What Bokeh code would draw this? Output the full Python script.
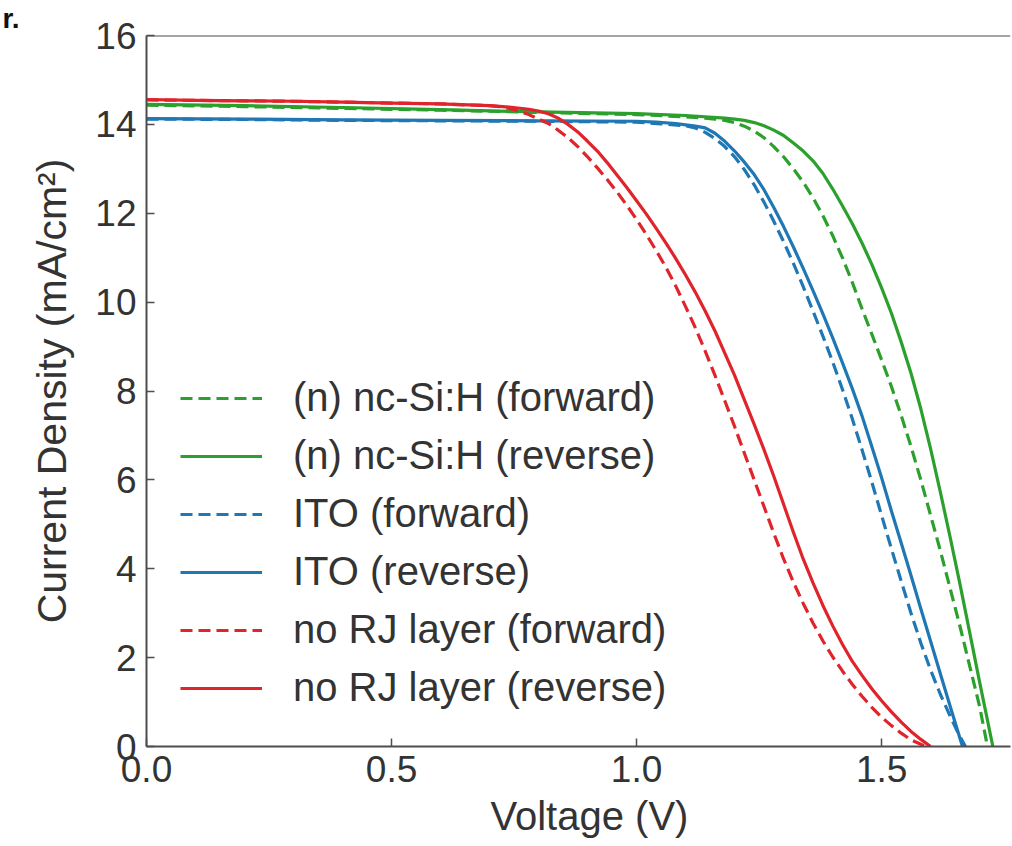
from bokeh.plotting import figure
from bokeh.models import (Range1d, FixedTicker, NumeralTickFormatter, Legend,
                          LegendItem, Span, Title)
from bokeh.embed import file_html
from bokeh.resources import INLINE

# ---- data ----
nc_fwd_v = [0.0, 0.2, 0.4, 0.6, 0.8, 1.0, 1.1, 1.14, 1.16, 1.18, 1.20, 1.22, 1.24,
            1.26, 1.28, 1.30, 1.32, 1.34, 1.36, 1.38, 1.40, 1.42, 1.44, 1.46, 1.48,
            1.50, 1.52, 1.54, 1.56, 1.58, 1.60, 1.62, 1.64, 1.66, 1.68, 1.70, 1.716]
nc_fwd_j = [14.43, 14.40, 14.36, 14.32, 14.27, 14.22, 14.17, 14.14, 14.12, 14.09,
            14.04, 13.96, 13.85, 13.70, 13.50, 13.27, 13.00, 12.70, 12.35, 11.95,
            11.50, 11.00, 10.45, 9.85, 9.28, 8.70, 8.10, 7.45, 6.75, 6.00, 5.20,
            4.40, 3.55, 2.70, 1.80, 0.90, 0.0]

nc_rev_v = [0.0, 0.2, 0.4, 0.6, 0.8, 1.0, 1.1, 1.18, 1.20, 1.22, 1.24, 1.26, 1.28,
            1.30, 1.32, 1.34, 1.36, 1.38, 1.40, 1.42, 1.44, 1.46, 1.48, 1.50, 1.52,
            1.54, 1.56, 1.58, 1.60, 1.62, 1.64, 1.66, 1.68, 1.70, 1.727]
nc_rev_j = [14.45, 14.42, 14.38, 14.33, 14.28, 14.24, 14.20, 14.14, 14.12, 14.09,
            14.04, 13.97, 13.87, 13.75, 13.58, 13.40, 13.18, 12.90, 12.55, 12.17,
            11.77, 11.33, 10.85, 10.32, 9.75, 9.10, 8.40, 7.60, 6.70, 5.72, 4.70,
            3.65, 2.55, 1.45, 0.0]

ito_fwd_v = [0.0, 0.2, 0.4, 0.6, 0.8, 1.0, 1.05, 1.10, 1.12, 1.14, 1.16, 1.18, 1.20,
             1.22, 1.24, 1.26, 1.28, 1.30, 1.32, 1.34, 1.36, 1.38, 1.40, 1.42, 1.44,
             1.46, 1.48, 1.50, 1.52, 1.54, 1.56, 1.58, 1.60, 1.62, 1.64, 1.655, 1.671]
ito_fwd_j = [14.12, 14.11, 14.09, 14.08, 14.07, 14.05, 14.01, 13.97, 13.92, 13.82,
             13.68, 13.50, 13.27, 12.98, 12.64, 12.25, 11.82, 11.36, 10.87, 10.35,
             9.80, 9.24, 8.66, 8.04, 7.38, 6.68, 5.95, 5.20, 4.45, 3.72, 3.00, 2.33,
             1.72, 1.17, 0.68, 0.33, 0.0]

ito_rev_v = [0.0, 0.2, 0.4, 0.6, 0.8, 1.0, 1.04, 1.08, 1.10, 1.12, 1.14, 1.16, 1.18,
             1.20, 1.22, 1.24, 1.26, 1.28, 1.30, 1.32, 1.34, 1.36, 1.38, 1.40, 1.42,
             1.44, 1.46, 1.48, 1.50, 1.52, 1.54, 1.56, 1.58, 1.60, 1.62, 1.64, 1.665]
ito_rev_j = [14.13, 14.12, 14.10, 14.09, 14.08, 14.07, 14.05, 14.02, 13.99, 13.96,
             13.92, 13.80, 13.62, 13.40, 13.15, 12.87, 12.53, 12.13, 11.70, 11.24,
             10.76, 10.26, 9.74, 9.20, 8.64, 8.06, 7.44, 6.75, 6.05, 5.30, 4.58,
             3.85, 3.10, 2.37, 1.63, 0.90, 0.0]

norj_fwd_v = [0.0, 0.1, 0.2, 0.3, 0.4, 0.5, 0.6, 0.7, 0.72, 0.74, 0.76, 0.78, 0.80,
              0.82, 0.84, 0.86, 0.88, 0.90, 0.92, 0.94, 0.96, 0.98, 1.00, 1.02, 1.04,
              1.06, 1.08, 1.10, 1.12, 1.14, 1.16, 1.18, 1.20, 1.22, 1.24, 1.26, 1.28,
              1.30, 1.32, 1.34, 1.36, 1.38, 1.40, 1.42, 1.44, 1.46, 1.48, 1.50, 1.52,
              1.54, 1.56, 1.59]
norj_fwd_j = [14.55, 14.54, 14.53, 14.52, 14.50, 14.48, 14.46, 14.42, 14.40, 14.36,
              14.30, 14.22, 14.12, 14.02, 13.87, 13.70, 13.50, 13.27, 13.02, 12.76,
              12.48, 12.18, 11.86, 11.52, 11.16, 10.78, 10.36, 9.90, 9.42, 8.90,
              8.35, 7.78, 7.20, 6.60, 6.00, 5.40, 4.80, 4.22, 3.70, 3.22, 2.78, 2.38,
              2.02, 1.70, 1.40, 1.13, 0.88, 0.66, 0.47, 0.30, 0.15, 0.0]

norj_rev_v = [0.0, 0.1, 0.2, 0.3, 0.4, 0.5, 0.6, 0.7, 0.74, 0.78, 0.80, 0.82, 0.84,
              0.86, 0.88, 0.90, 0.92, 0.94, 0.96, 0.98, 1.00, 1.02, 1.04, 1.06, 1.08,
              1.10, 1.12, 1.14, 1.16, 1.18, 1.20, 1.22, 1.24, 1.26, 1.28, 1.30, 1.32,
              1.34, 1.36, 1.38, 1.40, 1.42, 1.44, 1.46, 1.48, 1.50, 1.52, 1.54, 1.56,
              1.58, 1.60]
norj_rev_j = [14.56, 14.54, 14.53, 14.52, 14.50, 14.48, 14.46, 14.42, 14.39, 14.34,
              14.30, 14.24, 14.14, 14.00, 13.83, 13.62, 13.40, 13.14, 12.86, 12.58,
              12.28, 11.98, 11.66, 11.33, 10.98, 10.61, 10.22, 9.80, 9.35, 8.85,
              8.35, 7.80, 7.25, 6.68, 6.08, 5.45, 4.82, 4.22, 3.68, 3.18, 2.72, 2.30,
              1.92, 1.60, 1.30, 1.03, 0.78, 0.55, 0.34, 0.16, 0.0]

x_ticks = [0.0, 0.5, 1.0, 1.5]
y_ticks = [0, 2, 4, 6, 8, 10, 12, 14, 16]

labels = ["(n) nc-Si:H (forward)", "(n) nc-Si:H (reverse)",
          "ITO (forward)", "ITO (reverse)",
          "no RJ layer (forward)", "no RJ layer (reverse)"]

GREEN = "#2ca02c"
BLUE = "#1f77b4"
RED = "#e0242b"
FONT = "Liberation Sans"
TXT = "#333333"
AX = "#4d4d4d"

p = figure(width=1012, height=846, output_backend="svg", toolbar_location=None,
           x_range=Range1d(0, 1.763), y_range=Range1d(0, 16),
           min_border_left=146, min_border_right=2, min_border_top=35,
           min_border_bottom=100)
p.outline_line_color = None
p.grid.visible = False
p.background_fill_color = "white"
p.border_fill_color = "white"

# panel letter at the top-left corner (as the plot title)
p.title.text = "r."
p.title.align = "left"
p.title.vertical_align = "top"
p.title.offset = -144
p.title.standoff = 0
p.title.text_font = FONT
p.title.text_font_size = "28px"
p.title.text_font_style = "bold"
p.title.text_color = "#111111"

for ax in (p.xaxis[0], p.yaxis[0]):
    ax.axis_line_color = AX
    ax.axis_line_width = 2
    ax.major_tick_line_color = AX
    ax.major_tick_line_width = 1.5
    ax.major_tick_in = 8
    ax.major_tick_out = 0
    ax.minor_tick_line_color = None
    ax.major_label_text_font = FONT
    ax.major_label_text_font_size = "37px"
    ax.major_label_text_color = TXT
    ax.axis_label_text_font = FONT
    ax.axis_label_text_font_size = "41px"
    ax.axis_label_text_font_style = "normal"
    ax.axis_label_text_color = TXT

p.xaxis.ticker = FixedTicker(ticks=x_ticks)
p.xaxis.formatter = NumeralTickFormatter(format="0.0")
p.xaxis.major_label_standoff = 9

p.yaxis.ticker = FixedTicker(ticks=y_ticks)
p.yaxis.formatter = NumeralTickFormatter(format="0")
p.yaxis.major_label_standoff = 10
p.yaxis.axis_label = "Current Density (mA/cm²)"
p.yaxis.axis_label_standoff = 17

# x-axis title, placed like the reference (its axis runs past the crop)
p.add_layout(Title(text="Voltage (V)", align="left", offset=344, standoff=14,
                   text_font=FONT, text_font_size="40px",
                   text_font_style="normal", text_color=TXT), "below")

p.add_layout(Span(location=16, dimension="width", line_color=AX, line_width=2))

series = [
    (nc_fwd_v, nc_fwd_j, GREEN, "12 6"),
    (nc_rev_v, nc_rev_j, GREEN, "solid"),
    (ito_fwd_v, ito_fwd_j, BLUE, "12 6"),
    (ito_rev_v, ito_rev_j, BLUE, "solid"),
    (norj_fwd_v, norj_fwd_j, RED, "12 6"),
    (norj_rev_v, norj_rev_j, RED, "solid"),
]
items = []
for (xs, ys, c, d), lab in zip(series, labels):
    r = p.line(xs, ys, line_color=c, line_width=3.2, line_dash=d,
               line_join="round")
    items.append(LegendItem(label=lab, renderers=[r]))

legend = Legend(items=items, location=(34, 36), padding=0, margin=0,
                spacing=13, glyph_width=82, glyph_height=44, label_height=44,
                label_standoff=31, label_text_font=FONT,
                label_text_font_size="40px", label_text_color=TXT,
                border_line_color=None, background_fill_alpha=0)
p.add_layout(legend)

open("out.html", "w").write(file_html(p, INLINE))
